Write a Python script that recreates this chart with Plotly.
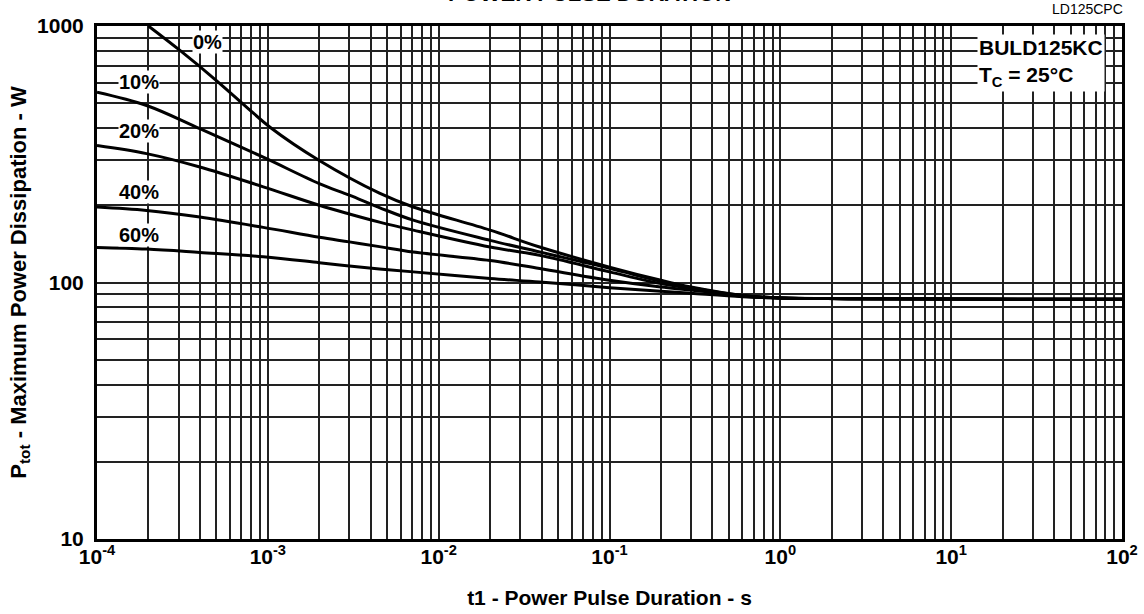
import plotly.graph_objects as go

# ---- data ----
t_0 = [2.0e-4, 3.06e-4, 5.0e-4, 7.5e-4, 1.03e-3, 2.0e-3, 4.5e-3, 7.1e-3, 0.02, 0.039, 0.1, 0.2, 0.3, 0.6, 1, 2.5, 10, 100]
p_0 = [1000, 803, 613, 483, 403, 299, 223, 197, 160, 137.5, 114.8, 102, 96, 89, 87, 86.5, 86.2, 86]

t_d = [1e-4, 1.95e-4, 4e-4, 9.4e-4, 2.0e-3, 3.0e-3, 4.5e-3, 7.1e-3, 0.02, 0.039, 0.1, 0.2, 0.3, 0.6, 1, 2.5, 10, 100]
p_10 = [552, 490, 398, 308, 243, 219, 196, 175, 146, 131.5, 113.6, 101, 95.5, 89, 87, 86.5, 86.2, 86]
p_20 = [342, 318, 282, 236, 200, 185, 172, 160, 137.5, 127.6, 110, 99, 95, 88.5, 87, 86.5, 86.2, 86]
p_40 = [197, 191, 180, 164, 150, 144, 138, 131.5, 121.9, 113.3, 102, 96, 93.5, 88.5, 87, 86.5, 86.2, 86]
p_60 = [137, 135, 131, 126, 119.5, 116, 113, 110, 103.6, 100.5, 95.5, 92.5, 90.8, 88, 87, 86.5, 86.2, 86]

series = [("0%", t_0, p_0), ("10%", t_d, p_10), ("20%", t_d, p_20),
          ("40%", t_d, p_40), ("60%", t_d, p_60)]

# curve labels: (text, log10 x, log10 y)
curve_labels = [("0%", -3.356, 2.938), ("10%", -3.757, 2.780), ("20%", -3.757, 2.590),
                ("40%", -3.757, 2.352), ("60%", -3.757, 2.186)]

x_decades = [-4, -3, -2, -1, 0, 1, 2]
y_decades = [1, 2, 3]

# grid positions: 1..9 per decade
x_tickvals, x_ticktext = [], []
for d in x_decades:
    for m in range(1, 10):
        if d == 2 and m > 1:
            break
        x_tickvals.append(m * 10.0 ** d)
        x_ticktext.append(f"<b>10<sup>{d}</sup></b>" if m == 1 else "")
y_tickvals, y_ticktext = [], []
for d in y_decades:
    for m in range(1, 10):
        if d == 3 and m > 1:
            break
        y_tickvals.append(m * 10.0 ** d)
        y_ticktext.append(f"<b>{int(10 ** d)}</b>" if m == 1 else "")

FONT = "Liberation Sans, Arial, sans-serif"

fig = go.Figure()
for name, xs, ys in series:
    fig.add_trace(go.Scatter(x=xs, y=ys, mode="lines", name=name,
                             line=dict(color="black", width=3, shape="spline", smoothing=1.0),
                             showlegend=False, hoverinfo="skip"))

for txt, lx, ly in curve_labels:
    fig.add_annotation(x=lx, y=ly, xref="x", yref="y", text=f"<b>{txt}</b>",
                       showarrow=False, bgcolor="white", borderpad=0,
                       font=dict(family=FONT, size=20, color="black"))

fig.add_annotation(x=0.859, y=0.985, xref="paper", yref="paper", xanchor="left", yanchor="top",
                   text="<b>BULD125KC</b><br><b>T<sub>C</sub> = 25°C</b>", align="left",
                   showarrow=False, bgcolor="white", borderpad=1,
                   font=dict(family=FONT, size=21, color="black"))

fig.add_annotation(x=1.0, y=1.0, xref="paper", yref="paper", xanchor="right", yanchor="bottom",
                   yshift=7, xshift=3, text="LD125CPC", showarrow=False,
                   font=dict(family=FONT, size=14, color="black"))

fig.add_annotation(x=0.48, y=1.0, xref="paper", yref="paper", xanchor="center", yanchor="bottom",
                   yshift=18, text="<b>POWER PULSE DURATION</b>", showarrow=False,
                   font=dict(family=FONT, size=22, color="black"))

fig.update_xaxes(type="log", range=[-4, 2], tickmode="array", tickvals=x_tickvals, ticktext=x_ticktext,
                 showgrid=True, gridcolor="#222", gridwidth=1.5, zeroline=False,
                 showline=True, linecolor="black", linewidth=3, mirror=True, ticks="",
                 ticklabelstandoff=-3, automargin=False,
                 tickfont=dict(family=FONT, size=21, color="black"),
                 title=dict(text="<b>t1 - Power Pulse Duration - s</b>", standoff=24,
                            font=dict(family=FONT, size=21, color="black")))
fig.update_yaxes(type="log", range=[1, 3], tickmode="array", tickvals=y_tickvals, ticktext=y_ticktext,
                 showgrid=True, gridcolor="#222", gridwidth=1.5, zeroline=False,
                 showline=True, linecolor="black", linewidth=3, mirror=True, ticks="",
                 ticklabelstandoff=6, automargin=False,
                 tickfont=dict(family=FONT, size=21, color="black"),
                 title=dict(text="<b>P<sub>tot</sub> - Maximum Power Dissipation - W</b>", standoff=5,
                            font=dict(family=FONT, size=22, color="black")))

fig.update_layout(width=1144, height=614, margin=dict(l=97, r=22, t=26, b=75, autoexpand=False),
                  paper_bgcolor="white", plot_bgcolor="white")

fig.write_html("out.html", config={"displayModeBar": False},
               post_script="document.body.style.margin='0px';")
